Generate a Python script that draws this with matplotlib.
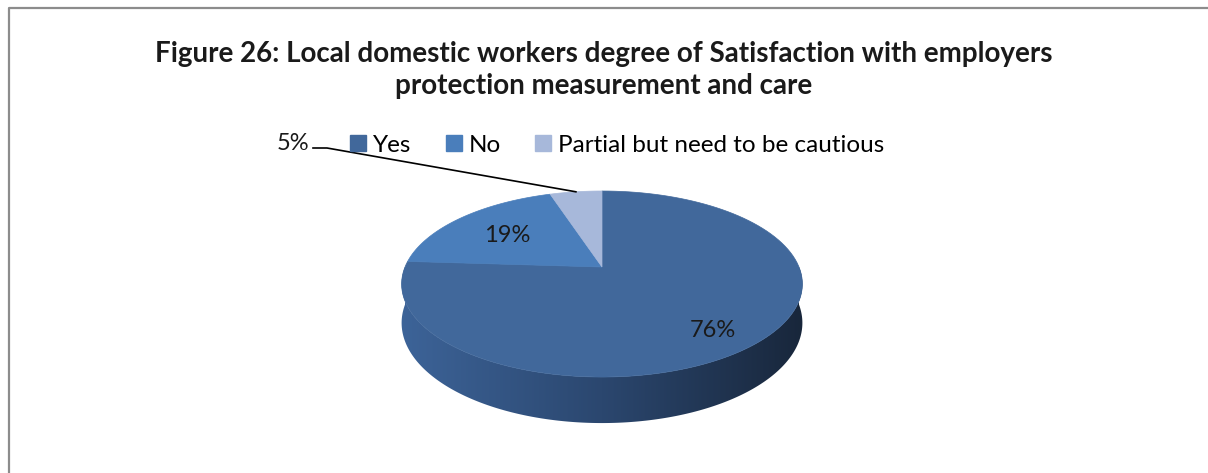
import numpy as np
import matplotlib.pyplot as plt
from matplotlib.patches import Polygon
from matplotlib.lines import Line2D
from matplotlib.colors import LinearSegmentedColormap

categories = ["Yes", "No", "Partial but need to be cautious"]
shares = [76, 19, 5]
pct_labels = ["76%", "19%", "5%"]
colors = ["#41689b", "#4a7ebb", "#a7b8da"]
title = ("Figure 26: Local domestic workers degree of Satisfaction with employers\n"
         "protection measurement and care")

plt.rcParams['font.family'] = ['Lato', 'DejaVu Sans']

fig = plt.figure(figsize=(12.08, 4.73), dpi=100)
ax = fig.add_axes([0, 0, 1, 1])
ax.axis('off')

# chart frame (left and top edges only)
ax.plot([9, 9, 1208], [473, 8, 8], color='#8c8c8c', lw=1.6, solid_capstyle='butt')

# tilted disk with a bit of perspective: front rim bigger than back rim
cx, cy = 602, 267
R, A, K, H = 197, 89.9, 0.183, 37.6

def project(phi, r=1.0, z=0.0):
    x = r * np.sin(phi)
    y = -r * np.cos(phi)
    d = 1 - K * y
    return cx + R * x / d, cy + (A * y + z) / d

# wedge angles, clockwise from the top
fr = np.array(shares, dtype=float) / np.sum(shares)
bounds = np.concatenate([[0], np.cumsum(fr)]) * 2 * np.pi

# outer side of the front half, one polygon filled with a left-to-right shade
phis = np.linspace(np.pi / 2, 3 * np.pi / 2, 300)
tx, ty = project(phis)
bx, by = project(phis[::-1], z=H)
side = Polygon(np.column_stack([np.r_[tx, bx], np.r_[ty, by]]), closed=True,
               fc='none', ec='none')
ax.add_patch(side)
shade = LinearSegmentedColormap.from_list('side', ['#3d6499', '#2b476f', '#18263a'])
grad = np.linspace(0, 1, 256)[None, :]
im = ax.imshow(grad, cmap=shade, aspect='auto', interpolation='bilinear',
               extent=(cx - 205, cx + 205, cy + 180, cy - 20), zorder=1)
im.set_clip_path(side)

# top faces of the wedges
for i in range(len(shares)):
    ang = np.linspace(bounds[i], bounds[i + 1], 120)
    xs, ys = project(ang)
    pts = np.column_stack([np.r_[cx, xs], np.r_[cy, ys]])
    ax.add_patch(Polygon(pts, closed=True, fc=colors[i], ec=colors[i], lw=0.5, zorder=2))

# value labels inside the two large wedges
mids = (bounds[:-1] + bounds[1:]) / 2
for i, r, dz in [(0, 0.74, 9), (1, 0.65, 2)]:
    lx, ly = project(mids[i], r=r, z=dz)
    ax.text(lx, ly, pct_labels[i], ha='center', va='center', fontsize=17, color='#1a1a1a', zorder=3)

# small wedge gets an outside label with a leader line to its rim
rx, ry = project(mids[2])
ax.plot([313, 327, rx], [148, 148, ry], color='black', lw=1.2, zorder=3)
ax.text(293, 143, pct_labels[2], ha='center', va='center', fontsize=17, color='#1a1a1a')

handles = [Line2D([], [], ls='none', marker='s', ms=11, mfc=c, mec=c) for c in colors]
ax.legend(handles, categories, loc='center', bbox_to_anchor=(0.511, 0.693), ncol=3,
          frameon=False, fontsize=17.5, handlelength=0.65, handletextpad=0.3,
          columnspacing=1.4, borderpad=0)

ax.text(604, 70, title, ha='center', va='center', fontsize=20, fontweight='bold',
        linespacing=1.25, color='#1a1a1a')

ax.set_xlim(0, 1208)
ax.set_ylim(473, 0)
fig.savefig('out.png', dpi=100)
